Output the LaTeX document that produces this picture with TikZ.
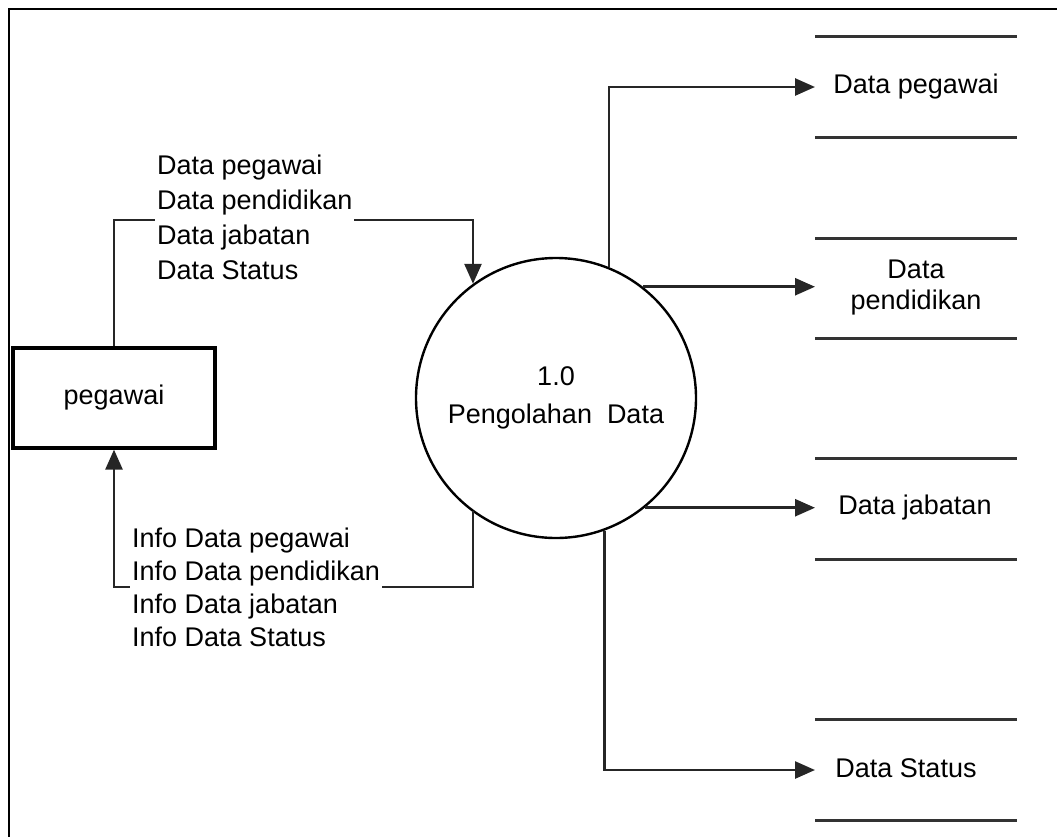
\documentclass[tikz,border=0pt]{standalone}
\usepackage{fontspec}
\setmainfont{Liberation Sans}
\usetikzlibrary{arrows.meta}
\tikzset{
    flow/.style={draw=black!85, line width=2.6pt, -{Triangle[length=20pt,width=17pt]}},
    label/.style={fill=white, inner sep=2pt, align=left, font=\fontsize{27}{35}\selectfont},
    store/.style={draw=black!80, line width=3pt}
}
\begin{document}
\begin{tikzpicture}[x=1pt, y=-1pt]
                \useasboundingbox (0,0) rectangle (1057,836);
                \clip (0,0) rectangle (1057,836);
                \draw[line width=2pt] (9,9) rectangle (1070,850);

                \node [draw, line width=3.2pt, minimum width=202pt, minimum height=100pt, font=\fontsize{27}{35}\selectfont] (pegawai) at (114,398) {pegawai};
                \node [draw, circle, line width=2.4pt, minimum size=280pt, inner sep=0pt, align=center, font=\fontsize{27}{38}\selectfont] (proc) at (556,398) {1.0\\Pengolahan~~Data};

                \coordinate (in) at (473,220);
                \coordinate (out) at (473,587);
                \coordinate (s1) at (815,87);
                \coordinate (s2) at (815,287);
                \coordinate (s3) at (815,508);
                \coordinate (s4) at (815,770);

                % data stores
                \foreach \ya/\yb in {36/137, 238/338, 458/559, 719/820} {
                    \draw[store] (815,\ya) -- (1017,\ya);
                    \draw[store] (815,\yb) -- (1017,\yb);
                }
                \node [font=\fontsize{27}{35}\selectfont] (dpeg) at (916,87) {Data pegawai};
                \node [align=center, font=\fontsize{27}{31}\selectfont] (dpend) at (916,288) {Data\\pendidikan};
                \node [font=\fontsize{27}{35}\selectfont] (djab) at (915,508) {Data jabatan};
                \node [font=\fontsize{27}{35}\selectfont] (dstat) at (906,768) {Data Status};

                \draw[flow] (pegawai.north) |- (in) -- (in |- proc.126.3);
                \draw[flow] (out |- proc.233.7) -- (out) -| (pegawai.south);
                \draw[flow] (proc.68.2) |- (s1);
                \draw[flow] (proc.52.6) -- (proc.52.6 -| s2);
                \draw[flow] (proc.-51.8) -- (proc.-51.8 -| s3);
                \draw[flow] (proc.-70.8) |- (s4);

                \node [label, anchor=west] (lin) at (155,217) {Data pegawai\\Data pendidikan\\Data jabatan\\Data Status};
                \node [label, anchor=west, font=\fontsize{27}{33}\selectfont] (lout) at (130,587) {Info Data pegawai\\Info Data pendidikan\\Info Data jabatan\\Info Data Status};
\end{tikzpicture}
\end{document}
